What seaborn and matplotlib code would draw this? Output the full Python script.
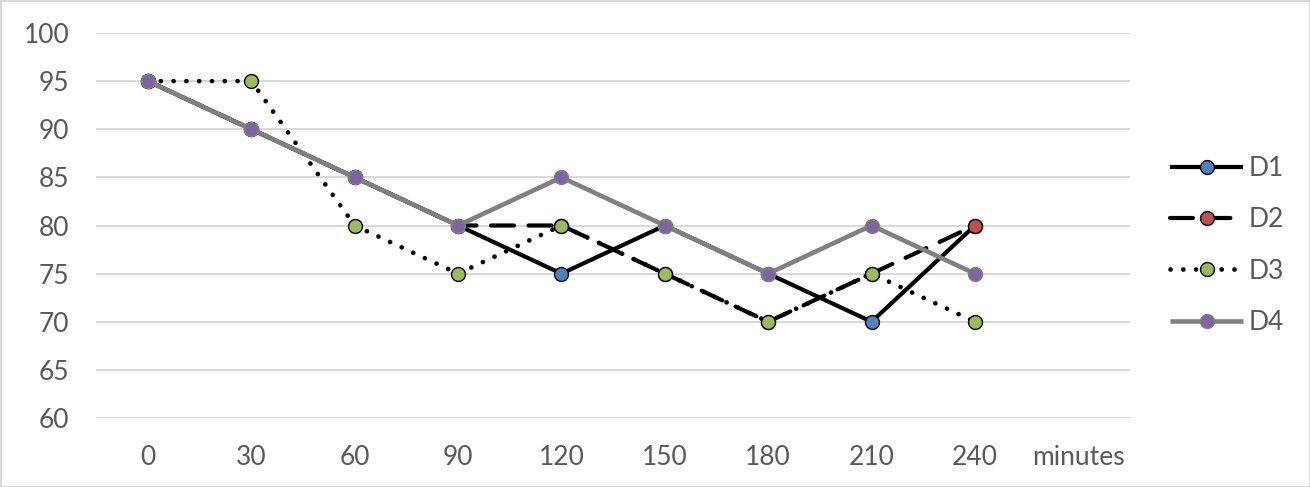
import numpy as np
import pandas as pd
import matplotlib
matplotlib.use("Agg")
import matplotlib.pyplot as plt
import seaborn as sns

# data
minutes = [0, 30, 60, 90, 120, 150, 180, 210, 240]
d1 = [95, 90, 85, 80, 75, 80, 75, 70, 80]
d2 = [95, 90, 85, 80, 80, 75, 70, 75, 80]
d3 = [95, 95, 80, 75, 80, 75, 70, 75, 70]
d4 = [95, 90, 85, 80, 85, 80, 75, 80, 75]

series = {"D1": d1, "D2": d2, "D3": d3, "D4": d4}
df = pd.concat([
    pd.DataFrame({"pos": np.arange(len(minutes)), "minutes": minutes, "value": v, "series": k})
    for k, v in series.items()
], ignore_index=True)

sns.set_style("white")
plt.rcParams['font.family'] = ['Lato', 'DejaVu Sans']

fig = plt.figure(figsize=(13.1, 4.87), dpi=100)
fig.patch.set_edgecolor("#D9D9D9")
fig.patch.set_linewidth(2)
ax = fig.add_axes([96.3 / 1310, 1 - 418 / 487, (1130 - 96.3) / 1310, 385 / 487])

styles = {
    "D1": dict(color="black", lw=3, ls="-", mfc="#4F81BD", mec="black", zorder=3),
    "D2": dict(color="black", lw=3, ls=(0, (5.5, 3.5)), mfc="#C0504D", mec="black", zorder=4),
    "D3": dict(color="black", lw=3.4, ls=(0, (0.01, 2.7)), mfc="#9BBB59", mec="black", zorder=5),
    "D4": dict(color="#808080", lw=3.3, ls="-", mfc="#8064A2", mec="#808080", zorder=6),
}

for name in series:
    st = styles[name]
    sub = df[df["series"] == name]
    sns.lineplot(data=sub, x="pos", y="value", ax=ax, color=st["color"], linewidth=st["lw"],
                 linestyle=st["ls"], marker="o", markersize=10, markerfacecolor=st["mfc"],
                 markeredgecolor=st["mec"], markeredgewidth=1, label=name,
                 zorder=st["zorder"], dash_capstyle="round", solid_capstyle="butt")

ax.set_xlim(-0.5, 9.5)
ax.set_ylim(60, 100)
ax.set_yticks(range(60, 101, 5))
ax.set_xticks(range(len(minutes) + 1))
ax.set_xticklabels([str(m) for m in minutes] + ["minutes"])
ax.tick_params(axis="both", length=0, labelsize=19, labelcolor="#595959")
ax.tick_params(axis="y", pad=19.5)
ax.tick_params(axis="x", pad=19.5)
ax.yaxis.grid(True, color="#D9D9D9", lw=1.5)
ax.set_axisbelow(True)
for s in ax.spines.values():
    s.set_visible(False)
ax.set_xlabel("")
ax.set_ylabel("")

leg = ax.legend(loc="center left", bbox_to_anchor=(1.0387, 0.448), frameon=False, fontsize=19,
                labelcolor="#595959", handlelength=2.77, handletextpad=0.2, labelspacing=1.0,
                borderaxespad=0, borderpad=0)

fig.savefig("out.png", dpi=100)
